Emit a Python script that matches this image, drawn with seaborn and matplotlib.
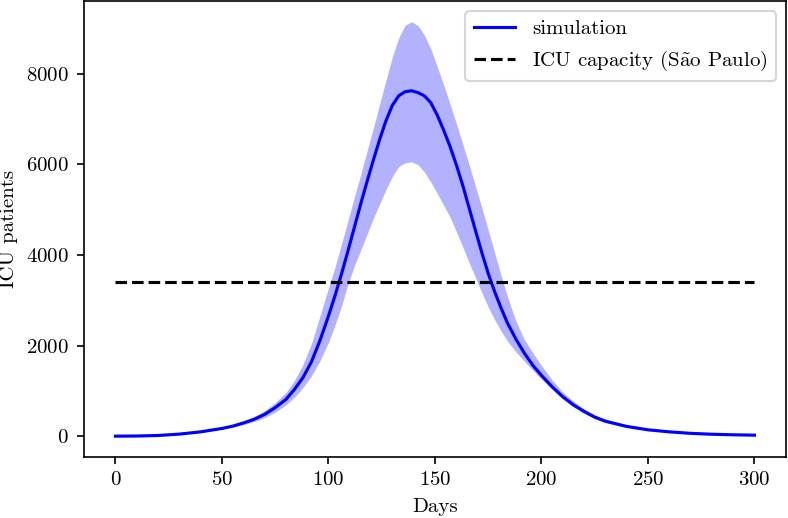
import numpy as np
import pandas as pd
import matplotlib
matplotlib.use("Agg")
import matplotlib.pyplot as plt
import seaborn as sns

# values
days = [0, 10, 20, 30, 40, 50, 55, 60, 65, 70, 75, 80, 84, 88, 92, 96,
        100, 103, 106, 109, 112, 115, 118, 121, 124, 127, 130, 133, 136, 139,
        142, 145, 148, 151, 154, 157, 160, 163, 166, 169, 172, 175, 178, 181,
        184, 188, 192, 196, 200, 205, 210, 215, 220, 225, 230, 240, 250, 260,
        270, 280, 290, 300]

icu_mean = [0, 3, 15, 45, 95, 170, 220, 290, 370, 480, 630, 810, 1030, 1290, 1640, 2110,
            2650, 3090, 3560, 4060, 4580, 5100, 5600, 6080, 6540, 6960, 7300, 7510, 7600, 7620,
            7580, 7510, 7360, 7090, 6760, 6400, 5990, 5540, 5040, 4540, 4050, 3590, 3190, 2830,
            2500, 2140, 1830, 1560, 1340, 1090, 870, 690, 545, 420, 330, 215, 140, 95,
            62, 42, 30, 22]

icu_upper = [0, 3, 16, 48, 102, 185, 245, 330, 430, 560, 740, 960, 1230, 1580, 2040, 2650,
             3270, 3720, 4220, 4730, 5250, 5750, 6270, 6790, 7320, 7850, 8370, 8790, 9070, 9143,
             9060, 8850, 8550, 8160, 7760, 7340, 6900, 6450, 5990, 5520, 5040, 4550, 4050, 3550,
             3080, 2540, 2130, 1830, 1560, 1240, 970, 770, 600, 470, 375, 240, 155, 100,
             66, 45, 32, 24]

icu_lower = [0, 3, 14, 42, 88, 155, 200, 255, 320, 410, 530, 690, 860, 1070, 1330, 1660,
             2070, 2440, 2850, 3330, 3740, 4090, 4440, 4800, 5120, 5440, 5730, 5950, 6030, 6053,
             5990, 5830, 5610, 5360, 5100, 4840, 4520, 4180, 3830, 3500, 3170, 2850, 2570, 2320,
             2100, 1860, 1650, 1450, 1260, 1030, 820, 645, 505, 385, 300, 190, 125, 84,
             56, 38, 27, 20]

capacity_days = [0, 300]
icu_capacity = 3400

df = pd.DataFrame({"day": days, "mean": icu_mean, "upper": icu_upper, "lower": icu_lower})
cap_df = pd.DataFrame({"day": capacity_days, "beds": [icu_capacity] * len(capacity_days)})

plt.rcParams["font.family"] = ["cmr10", "DejaVu Serif"]
plt.rcParams["mathtext.fontset"] = "cm"
plt.rcParams["axes.unicode_minus"] = False
plt.rcParams["axes.formatter.use_mathtext"] = True
plt.rcParams["font.size"] = 10

fig, ax = plt.subplots(figsize=(788 / 150, 518 / 150), dpi=150)
fig.subplots_adjust(left=0.106, right=0.998, bottom=0.118, top=0.998)

# uncertainty band around the simulation
ax.fill_between(df["day"], df["lower"], df["upper"], color="blue", alpha=0.3, linewidth=0)
sns.lineplot(data=df, x="day", y="mean", color="blue", linewidth=1.5, label="simulation", ax=ax)
sns.lineplot(data=cap_df, x="day", y="beds", color="black", linewidth=1.5, linestyle="--",
             label=r"ICU capacity (S$\tilde{\mathrm{a}}$o Paulo)", ax=ax)

ax.set_xlabel("Days")
ax.set_ylabel("ICU patients")
ax.legend(loc="upper right")

plt.savefig("out.png", dpi=150)
